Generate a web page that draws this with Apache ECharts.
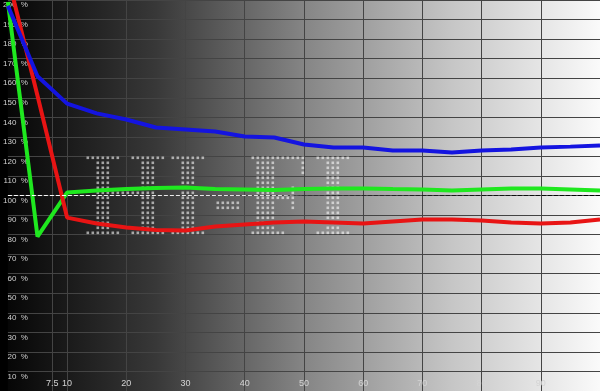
<!DOCTYPE html>
<html><head><meta charset="utf-8">
<script src="https://cdn.jsdelivr.net/npm/echarts@6/dist/echarts.min.js"></script>
<style>html,body{margin:0;padding:0;background:#000}#c{width:600px;height:391px}</style>
</head><body><div id="c"></div>
<script>
// ---- data ----
const levels = [0,5,10,15,20,25,30,35,40,45,50,55,60,65,70,75,80,85,90,95,100];
const red   = [212,151,88.7,85.7,83.6,82.4,82.1,84.1,85.2,86.2,86.7,86.2,85.7,86.7,87.7,87.7,87.2,86.2,85.7,86.2,87.7];
const green = [199,79,101.5,102.6,103.3,103.8,104.1,103.3,103.1,102.8,103.3,103.6,103.6,103.3,103.1,102.6,103.1,103.6,103.6,103.1,102.6];
const blue  = [197,161,147,142,138.9,134.8,133.8,132.7,130.2,129.7,126.1,124.6,124.6,123,123,122,123,123.5,124.6,125,125.6];
const xTickValues = [7.5,10,20,30,40,50,60,70,80,90,100];
const xLabelValues = [7.5,10,20,30,40,50,60,70,80,90];
const refLevel = 100;
const watermarkText = 'HI-FI';

function pairs(ys){ return levels.map((x,i)=>[x, ys[i]]); }

// dot-matrix watermark
function makeWatermark(){
  const W=600,H=391;
  const m=document.createElement('canvas'); m.width=W; m.height=H;
  const mc=m.getContext('2d');
  mc.fillStyle='#fff';
  mc.save();
  mc.translate(84,236);
  mc.scale(1.0,1.21);
  mc.font="bold 104px 'Liberation Serif'";
  mc.textBaseline='alphabetic';
  let x=0;
  for(const ch of watermarkText){
    mc.fillText(ch,x,0);
    x += mc.measureText(ch).width + 2;
  }
  mc.restore();
  const d=mc.getImageData(0,0,W,H).data;
  const o=document.createElement('canvas'); o.width=W; o.height=H;
  const oc=o.getContext('2d');
  oc.fillStyle='rgba(255,255,255,0.58)';
  for(let y=2;y<H;y+=5){
    for(let x=2;x<W;x+=5){
      if(d[(y*W+x)*4+3]>110){
        oc.fillRect(x-0.5,y-0.5,2.6,2.6);
      }
    }
  }
  return o;
}

const chart = echarts.init(document.getElementById('c'), null, {renderer:'canvas'});
const bg = new echarts.graphic.LinearGradient(0,0,1,0,[
  {offset:0,color:'#060606'},{offset:0.25,color:'#383838'},
  {offset:0.5,color:'#858585'},{offset:0.75,color:'#c6c6c6'},{offset:1,color:'#fafafa'}]);
const dashColor = new echarts.graphic.LinearGradient(0,0,600,0,[
  {offset:0,color:'#ffffff'},{offset:0.47,color:'#dddddd'},
  {offset:0.5,color:'#333333'},{offset:1,color:'#000000'}], true);

const lineSeries = (name, ys, color, extra) => Object.assign({
  type:'line', name, data:pairs(ys), symbol:'none', smooth:false,
  lineStyle:{color, width:4}, itemStyle:{color}, z:3, silent:true, animation:false
}, extra||{});

chart.setOption({
  animation:false,
  grid:{left:0,right:0,top:0,bottom:0,containLabel:false,show:true,backgroundColor:bg,borderWidth:0},
  graphic:[{type:'image', z:1, silent:true, style:{image:makeWatermark(), x:0, y:0, width:600, height:391}}],
  xAxis:{
    type:'value', min:0, max:100, interval:10,
    axisLine:{show:false},
    axisTick:{show:false, customValues:xTickValues},
    splitLine:{show:true, lineStyle:{color:'#444444', width:1}},
    axisLabel:{inside:true, margin:3, customValues:xLabelValues, color:'#d4d4d4', fontSize:9, fontFamily:'Liberation Sans',
      formatter:v=> (v===0||v===100)?'':String(v)}
  },
  yAxis:{
    type:'value', min:0, max:200, interval:10,
    axisLine:{show:false}, axisTick:{show:false},
    splitLine:{show:true, lineStyle:{color:'#444444', width:1}},
    axisLabel:{inside:true, margin:20, align:'right', verticalAlign:'top', padding:[1,0,0,0], showMinLabel:false,
      color:'#d0d0d0', fontSize:8, fontFamily:'Liberation Sans', formatter:'{value}  %'}
  },
  series:[
    lineSeries('G', green, '#1fe81f', {
      markLine:{silent:true, symbol:'none', label:{show:false}, animation:false,
        lineStyle:{color:dashColor, type:[4,2], width:1}, data:[{yAxis:refLevel}]}
    }),
    lineSeries('R', red, '#e81414'),
    lineSeries('B', blue, '#1414e0')
  ]
});
</script></body></html>
